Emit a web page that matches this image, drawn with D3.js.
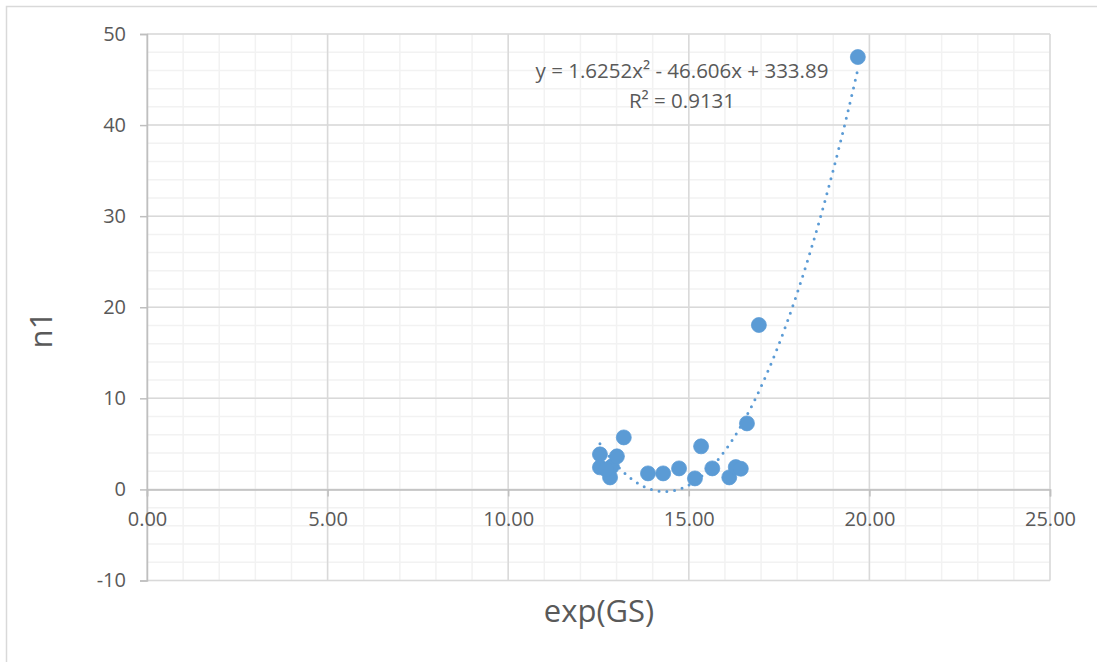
<!DOCTYPE html>
<html>
<head>
<meta charset="utf-8">
<script src="https://cdn.jsdelivr.net/npm/d3@7"></script>
<style>
  html, body { margin: 0; padding: 0; background: #fff; }
  svg { display: block; }
  text { font-family: "Open Sans", sans-serif; fill: #595959; }
</style>
</head>
<body>
<svg id="chart" width="1097" height="662"></svg>
<script>
// exp(GS) values and their n1 observations
const xValues = [12.54, 12.54, 12.82, 12.87, 13.01, 12.71, 13.20, 13.87, 14.29, 14.73,
                 15.17, 15.34, 15.65, 16.12, 16.30, 16.44, 16.61, 16.94, 19.68];
const yValues = [3.85, 2.42, 1.32, 2.53, 3.63, 2.20, 5.71, 1.76, 1.76, 2.31,
                 1.21, 4.73, 2.31, 1.32, 2.45, 2.27, 7.25, 18.05, 47.47];

// Polynomial (order 2) trendline as reported
const trendCoef = [333.89, -46.606, 1.6252]; // c0 + c1*x + c2*x^2
const rSquared = 0.9131;

const xTicks = [0, 5, 10, 15, 20, 25];
const yTicks = [-10, 0, 10, 20, 30, 40, 50];
const xMinor = d3.range(0, 25.001, 1);
const yMinor = d3.range(-10, 50.001, 2);

const svg = d3.select("#chart");

// chart area border
svg.append("rect")
  .attr("x", 6.5).attr("y", 6.5)
  .attr("width", 1200).attr("height", 700)
  .attr("fill", "#fff").attr("stroke", "#d9d9d9").attr("stroke-width", 1.5);

const x = d3.scaleLinear().domain([0, 25]).range([147, 1050]);
const y = d3.scaleLinear().domain([-10, 50]).range([580.5, 34]);

const grid = svg.append("g");
// minor gridlines
grid.selectAll("line.vmin").data(xMinor).join("line")
  .attr("x1", d => x(d)).attr("x2", d => x(d))
  .attr("y1", y(50)).attr("y2", y(-10))
  .attr("stroke", "#f2f2f2").attr("stroke-width", 1.5);
grid.selectAll("line.hmin").data(yMinor).join("line")
  .attr("y1", d => y(d)).attr("y2", d => y(d))
  .attr("x1", x(0)).attr("x2", x(25))
  .attr("stroke", "#f2f2f2").attr("stroke-width", 1.5);
// major gridlines
grid.selectAll("line.vmaj").data(xTicks).join("line")
  .attr("x1", d => x(d)).attr("x2", d => x(d))
  .attr("y1", y(50)).attr("y2", y(-10))
  .attr("stroke", "#d9d9d9").attr("stroke-width", 1.5);
grid.selectAll("line.hmaj").data(yTicks).join("line")
  .attr("y1", d => y(d)).attr("y2", d => y(d))
  .attr("x1", x(0)).attr("x2", x(25))
  .attr("stroke", "#d9d9d9").attr("stroke-width", 1.5);

// value axis (vertical), ticks outside; plain hyphen for negatives
const yAxis = d3.axisLeft(y).tickValues(yTicks).tickSize(7).tickPadding(14)
  .tickFormat(d => String(d));
const gy = svg.append("g").attr("transform", `translate(${x(0)},0)`).call(yAxis);
gy.select(".domain").attr("stroke", "#bfbfbf").attr("stroke-width", 1.5);
gy.selectAll(".tick line").attr("stroke", "#bfbfbf").attr("stroke-width", 1.5);
gy.selectAll(".tick text").style("font-size", "20px").attr("fill", "#595959");

// horizontal axis crossing at y = 0; labels placed below the line
const xAxis = d3.axisBottom(x).tickValues(xTicks).tickSize(7).tickPadding(15)
  .tickFormat(d => d.toFixed(2));
const gx = svg.append("g").attr("transform", `translate(0,${y(0)})`).call(xAxis);
gx.select(".domain").attr("stroke", "#bfbfbf").attr("stroke-width", 1.5);
gx.selectAll(".tick line").attr("stroke", "#bfbfbf").attr("stroke-width", 1.5);
gx.selectAll(".tick text").style("font-size", "20px").attr("fill", "#595959");

// trendline over the data range
const xmin = d3.min(xValues), xmax = d3.max(xValues);
const trendPts = d3.range(0, 201).map(i => {
  const xv = xmin + (xmax - xmin) * i / 200;
  return [xv, trendCoef[0] + trendCoef[1] * xv + trendCoef[2] * xv * xv];
});
const line = d3.line().x(d => x(d[0])).y(d => y(d[1]));
svg.append("path").datum(trendPts)
  .attr("d", line)
  .attr("fill", "none")
  .attr("stroke", "#5b9bd5")
  .attr("stroke-width", 3)
  .attr("stroke-linecap", "round")
  .attr("stroke-dasharray", "0 7.8");

// data markers
const pts = xValues.map((v, i) => [v, yValues[i]]);
svg.append("g").selectAll("circle").data(pts).join("circle")
  .attr("cx", d => x(d[0])).attr("cy", d => y(d[1]))
  .attr("r", 7.5)
  .attr("fill", "#5b9bd5").attr("stroke", "#5b9bd5").attr("stroke-width", 0.75);

// trendline label
svg.append("text").attr("x", 682).attr("y", 78)
  .attr("text-anchor", "middle").style("font-size", "20.5px")
  .text(`y = ${trendCoef[2]}x² - ${Math.abs(trendCoef[1])}x + ${trendCoef[0]}`);
svg.append("text").attr("x", 682).attr("y", 108)
  .attr("text-anchor", "middle").style("font-size", "20.5px")
  .text(`R² = ${rSquared}`);

// axis titles
svg.append("text").attr("x", 599).attr("y", 622)
  .attr("text-anchor", "middle").style("font-size", "31px").text("exp(GS)");
svg.append("text")
  .attr("transform", "translate(52,330) rotate(-90)")
  .attr("text-anchor", "middle").style("font-size", "31px").text("n1");
</script>
</body>
</html>
